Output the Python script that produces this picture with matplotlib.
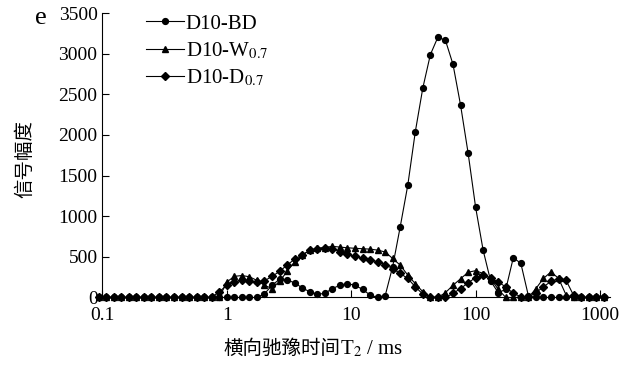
import matplotlib
matplotlib.use("Agg")
import matplotlib.pyplot as plt

plt.rcParams['font.family'] = ['Liberation Serif', 'Noto Sans CJK SC']
plt.rcParams['mathtext.fontset'] = 'stix'

# T2 sample grid (ms)
t2 = [0.0933, 0.1072, 0.1233, 0.1418, 0.1630, 0.1874, 0.2154, 0.2477, 0.2848, 0.3275,
      0.3765, 0.4329, 0.4977, 0.5722, 0.6579, 0.7565, 0.8698, 1.0, 1.150, 1.322,
      1.520, 1.748, 2.009, 2.310, 2.656, 3.054, 3.511, 4.037, 4.642, 5.337,
      6.136, 7.055, 8.111, 9.326, 10.72, 12.33, 14.18, 16.30, 18.74, 21.54,
      24.77, 28.48, 32.75, 37.65, 43.29, 49.77, 57.22, 65.79, 75.65, 86.98,
      100.0, 115.0, 132.2, 152.0, 174.8, 200.9, 231.0, 265.6, 305.4, 351.1,
      403.7, 464.2, 533.7, 613.6, 705.5, 811.1, 932.6, 1072.3]

bd = [0] * 22 + [45, 150, 225, 215, 180, 118, 70, 40, 50, 110,
                 150, 170, 150, 100, 30, 0, 20, 380, 870, 1380,
                 2040, 2580, 2990, 3205, 3165, 2870, 2370, 1780, 1110, 580,
                 200, 60, 100, 490, 420, 20] + [0] * 10

w07 = [0] * 17 + [190, 260, 270, 255, 210, 150, 110, 200, 320, 440,
                  520, 580, 605, 615, 630, 620, 612, 605, 600, 595,
                  583, 560, 480, 398, 275, 170, 70, 0, 0, 60,
                  150, 230, 310, 330, 295, 230, 100, 0, 0, 0,
                  0, 110, 235, 315, 235, 30] + [0] * 5

d07 = [0] * 16 + [70, 150, 195, 210, 205, 195, 205, 260, 320, 400,
                  470, 525, 580, 600, 610, 600, 565, 535, 505, 480,
                  460, 440, 405, 355, 296, 234, 131, 41, 0, 0,
                  0, 50, 110, 180, 245, 275, 240, 190, 130, 50,
                  10, 0, 60, 130, 200, 230, 210, 25] + [0] * 4

labels = ['D10-BD', 'D10-W$_{0.7}$', 'D10-D$_{0.7}$']

W, H = 632, 365
fig = plt.figure(figsize=(W / 100, H / 100), dpi=100)
ax = fig.add_axes([0.162, 0.185, 0.803, 0.779])

ax.plot(t2, bd, color='black', lw=0.8, marker='o', ms=4.2, clip_on=False, zorder=3, label=labels[0])
ax.plot(t2, w07, color='black', lw=0.8, marker='^', ms=4.6, clip_on=False, zorder=3, label=labels[1])
ax.plot(t2, d07, color='black', lw=0.8, marker='D', ms=3.6, clip_on=False, zorder=3, label=labels[2])

ax.set_xscale('log')
ax.set_xlim(0.1, 1200)
ax.set_ylim(0, 3500)
ax.set_xticks([0.1, 1, 10, 100, 1000])
ax.set_xticklabels(['0.1', '1', '10', '100', '1000'])
ax.minorticks_off()
ax.set_yticks(range(0, 3501, 500))

for s in ['top', 'right']:
    ax.spines[s].set_visible(False)
ax.tick_params(direction='in', length=5, width=0.8, labelsize=14)
ax.tick_params(axis='x', pad=7)

# axis titles: Chinese part and T2 part drawn separately so the CJK font is used
cjk = ['Noto Sans CJK SC', 'DejaVu Sans']
fig.text(25 / W, 1 - 159 / H, '信号幅度', rotation=90, ha='center', va='center',
         fontsize=14, family=cjk)
xl1 = fig.text(223 / W, 1 - 354 / H, '横向驰豫时间', ha='left', va='baseline',
               fontsize=14, family=cjk)
fig.canvas.draw()
bb = xl1.get_window_extent()
fig.text(bb.x1 / W, 1 - 354 / H, 'T$_2$ / ms', ha='left', va='baseline', fontsize=15)

fig.text(0.055, 0.935, 'e', fontsize=19)

ax.legend(loc='upper left', bbox_to_anchor=(0.07, 1.026), frameon=False, fontsize=15,
          handlelength=1.8, handletextpad=0.1, labelspacing=0.32, borderaxespad=0)

fig.savefig('out.png', dpi=100)
